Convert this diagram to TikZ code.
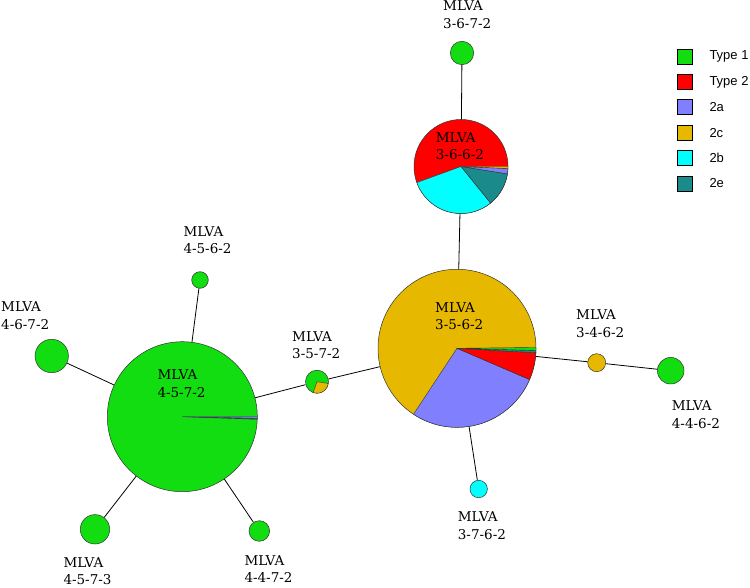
\documentclass[tikz,border=0pt]{standalone}
\usepackage{fontspec}
\setmainfont{DejaVu Serif}
\newfontfamily\legendfont{Liberation Sans}
\usetikzlibrary{positioning}
\definecolor{tyOne}{HTML}{11DD11}
\definecolor{tyTwo}{HTML}{FF0000}
\definecolor{stA}{HTML}{8080FF}
\definecolor{stC}{HTML}{E6B800}
\definecolor{stB}{HTML}{00FFFF}
\definecolor{stE}{HTML}{1A8A8A}
\definecolor{edgeGray}{HTML}{333333}

% one wedge of a pie: node, radius, start, end, colour
\newcommand{\pieslice}[5]{\filldraw[slice, fill=#5] (#1.center) -- ++(#3:#2) arc[start angle=#3, end angle=#4, radius=#2] -- cycle;}

\begin{document}
\begin{tikzpicture}[x=1pt, y=1pt,
  iso/.style={circle, draw=edgeGray, line width=0.5pt, inner sep=0pt, minimum size=#1},
  slice/.style={draw=edgeGray, line width=0.4pt},
  link/.style={line width=0.8pt, black},
  lbl/.style={anchor=base west, inner sep=0pt, align=left, font=\fontsize{13.5}{17.5}\selectfont},
  key/.style={draw=black, line width=0.6pt, fill=#1, minimum size=15pt, inner sep=0pt},
  keytxt/.style={anchor=west, inner sep=0pt, font=\legendfont\fontsize{13}{14}\selectfont}
]
\useasboundingbox (0,0) rectangle (750,-588);
% isolates
\node[iso=23.4pt, fill=tyOne] (m3672) at (462,-53) {};
\node[iso=94pt,   fill=tyTwo] (m3662) at (461,-166.5) {};
\node[iso=158pt,  fill=stC]   (m3562) at (457,-348.3) {};
\node[iso=18pt,   fill=stC]   (m3462) at (596.7,-362.7) {};
\node[iso=26.6pt, fill=tyOne] (m4462) at (670.7,-370.7) {};
\node[iso=17.4pt, fill=stB]   (m3762) at (478.7,-489) {};
\node[iso=23pt,   fill=tyOne] (m3572) at (317,-381.7) {};
\node[iso=150pt,  fill=tyOne] (m4572) at (182.3,-416.7) {};
\node[iso=16.6pt, fill=tyOne] (m4562) at (200,-280) {};
\node[iso=33.4pt, fill=tyOne] (m4672) at (51.7,-356) {};
\node[iso=29.4pt, fill=tyOne] (m4573) at (95,-529.3) {};
\node[iso=20.6pt, fill=tyOne] (m4472) at (259.3,-531) {};
% links
\draw[link] (m3672) -- (m3662);
\draw[link] (m3662) -- (m3562);
\draw[link] (m3562) -- (m3462);
\draw[link] (m3462) -- (m4462);
\draw[link] (m3562) -- (m3762);
\draw[link] (m3562) -- (m3572);
\draw[link] (m3572) -- (m4572);
\draw[link] (m4572) -- (m4562);
\draw[link] (m4572) -- (m4672);
\draw[link] (m4572) -- (m4573);
\draw[link] (m4572) -- (m4472);
% wedges
\pieslice{m3662}{47}{-160}{-51}{stB}
\pieslice{m3662}{47}{-51}{-9}{stE}
\pieslice{m3662}{47}{-9}{-2.5}{stA}
\pieslice{m3662}{47}{-2.5}{0}{stC}
\pieslice{m3562}{79}{-123.4}{-23.3}{stA}
\pieslice{m3562}{79}{-23.3}{-3.2}{tyTwo}
\pieslice{m3562}{79}{-3.2}{-1.6}{stE}
\pieslice{m3562}{79}{-1.6}{0.6}{tyOne}
\pieslice{m3572}{11.5}{-110}{-9}{stC}
\pieslice{m4572}{75}{-2}{-1.2}{stE}
\pieslice{m4572}{75}{-1.2}{0}{stA}
% labels (base = second line)
\node[lbl] (t3672) at (443,-28.5) {MLVA\\3-6-7-2};
\node[lbl] (t3662) at (435.7,-160) {MLVA\\3-6-6-2};
\node[lbl] (t3562) at (435,-330) {MLVA\\3-5-6-2};
\node[lbl] (t3462) at (576,-337.3) {MLVA\\3-4-6-2};
\node[lbl] (t4462) at (671.7,-428.3) {MLVA\\4-4-6-2};
\node[lbl] (t3762) at (457.7,-539) {MLVA\\3-7-6-2};
\node[lbl] (t3572) at (292,-358.5) {MLVA\\3-5-7-2};
\node[lbl] (t4572) at (157.3,-397.3) {MLVA\\4-5-7-2};
\node[lbl] (t4562) at (183.3,-254) {MLVA\\4-5-6-2};
\node[lbl] (t4672) at (1,-329.5) {MLVA\\4-6-7-2};
\node[lbl] (t4573) at (63.3,-584.5) {MLVA\\4-5-7-3};
\node[lbl] (t4472) at (244.3,-582.5) {MLVA\\4-4-7-2};
% legend
\node[key=tyOne] (k1) at (685.2,-56.5) {};
\node[key=tyTwo, below=9.8pt of k1] (k2) {};
\node[key=stA,   below=9.8pt of k2] (k3) {};
\node[key=stC,   below=9.8pt of k3] (k4) {};
\node[key=stB,   below=9.8pt of k4] (k5) {};
\node[key=stE,   below=9.8pt of k5] (k6) {};
\node[keytxt, right=16.3pt of k1] {Type 1};
\node[keytxt, right=16.3pt of k2] {Type 2};
\node[keytxt, right=16.3pt of k3] {2a};
\node[keytxt, right=16.3pt of k4] {2c};
\node[keytxt, right=16.3pt of k5] {2b};
\node[keytxt, right=16.3pt of k6] {2e};
\end{tikzpicture}
\end{document}
